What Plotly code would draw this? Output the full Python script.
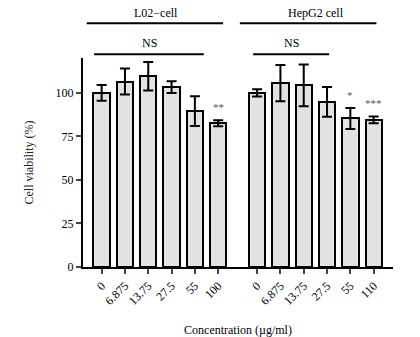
import plotly.graph_objects as go

concentrations_l02 = ["0", "6.875", "13.75", "27.5", "55", "100"]
concentrations_hep = ["0", "6.875", "13.75", "27.5", "55", "110"]
viability_l02 = [100.0, 106.5, 109.5, 103.3, 89.5, 82.5]
err_l02 = [4.5, 7.5, 8.2, 3.4, 8.6, 1.7]
viability_hep = [100.0, 105.6, 104.3, 94.8, 85.3, 84.5]
err_hep = [2.1, 10.4, 12.0, 8.6, 6.0, 1.9]
stars_l02 = ["", "", "", "", "", "**"]
stars_hep = ["", "", "", "", "*", "***"]
group_names = ["L02−cell", "HepG2 cell"]
y_ticks = [0, 25, 50, 75, 100]

GAP = 6.67
x_l02 = list(range(len(viability_l02)))
x_hep = [i + GAP for i in range(len(viability_hep))]

font = "Liberation Serif, Times New Roman, serif"
fig = go.Figure()
for xs, ys, es in [(x_l02, viability_l02, err_l02), (x_hep, viability_hep, err_hep)]:
    fig.add_trace(go.Bar(
        x=xs, y=ys, width=0.7,
        marker=dict(color="#e2e2e2", line=dict(color="black", width=2)),
        error_y=dict(type="data", array=es, visible=True, color="black", thickness=2, width=5),
        showlegend=False,
    ))

ann = []
for xs, ys, es, st in [(x_l02, viability_l02, err_l02, stars_l02), (x_hep, viability_hep, err_hep, stars_hep)]:
    for x, y, e, s in zip(xs, ys, es, st):
        if s:
            ann.append(dict(x=x, y=y + e + 3, text=s, showarrow=False, yanchor="bottom",
                            font=dict(family=font, size=11, color="#555")))

shapes = []
for (x0, x1, xc, name) in [(-0.64, 5.21, 2.35, group_names[0]), (5.93, 11.79, 9.2, group_names[1])]:
    shapes.append(dict(type="line", xref="x", yref="paper", x0=x0, x1=x1, y0=1.166, y1=1.166,
                       line=dict(color="black", width=2)))
    ann.append(dict(x=xc, xref="x", y=1.217, yref="paper", text=name, showarrow=False,
                    yanchor="middle", xanchor="center",
                    font=dict(family=font, size=12, color="black")))
for (x0, x1, xc) in [(-0.32, 4.38, 2.06), (6.5, 9.76, 8.13)]:
    shapes.append(dict(type="line", xref="x", yref="paper", x0=x0, x1=x1, y0=1.018, y1=1.018,
                       line=dict(color="black", width=2)))
    ann.append(dict(x=xc, xref="x", y=1.072, yref="paper", text="NS", showarrow=False,
                    yanchor="middle", xanchor="center",
                    font=dict(family=font, size=12, color="black")))

fig.update_layout(
    width=420, height=337,
    margin=dict(l=83, r=27, t=58, b=70, autoexpand=False),
    plot_bgcolor="white", paper_bgcolor="white",
    font=dict(family=font, size=12, color="black"),
    shapes=shapes, annotations=ann,
    bargap=0,
)
fig.update_xaxes(
    range=[-0.8, 12.5], tickvals=x_l02 + x_hep, ticktext=concentrations_l02 + concentrations_hep,
    tickangle=-45, ticks="outside", ticklen=5, tickwidth=2, showline=True, linecolor="black",
    linewidth=2, showgrid=False, zeroline=False, automargin=False,
    title=dict(text="Concentration (µg/ml)", font=dict(size=12), standoff=20),
)
fig.update_yaxes(
    range=[0, 120], tickvals=y_ticks, ticks="outside", ticklen=5, tickwidth=2,
    showline=True, linecolor="black", linewidth=2, showgrid=False, zeroline=False, automargin=False,
    title=dict(text="Cell viability (%)", font=dict(size=12, color="#222"), standoff=19),
)
fig.write_html("out.html", config={"displayModeBar": False},
               post_script="document.body.style.margin='0px';")
